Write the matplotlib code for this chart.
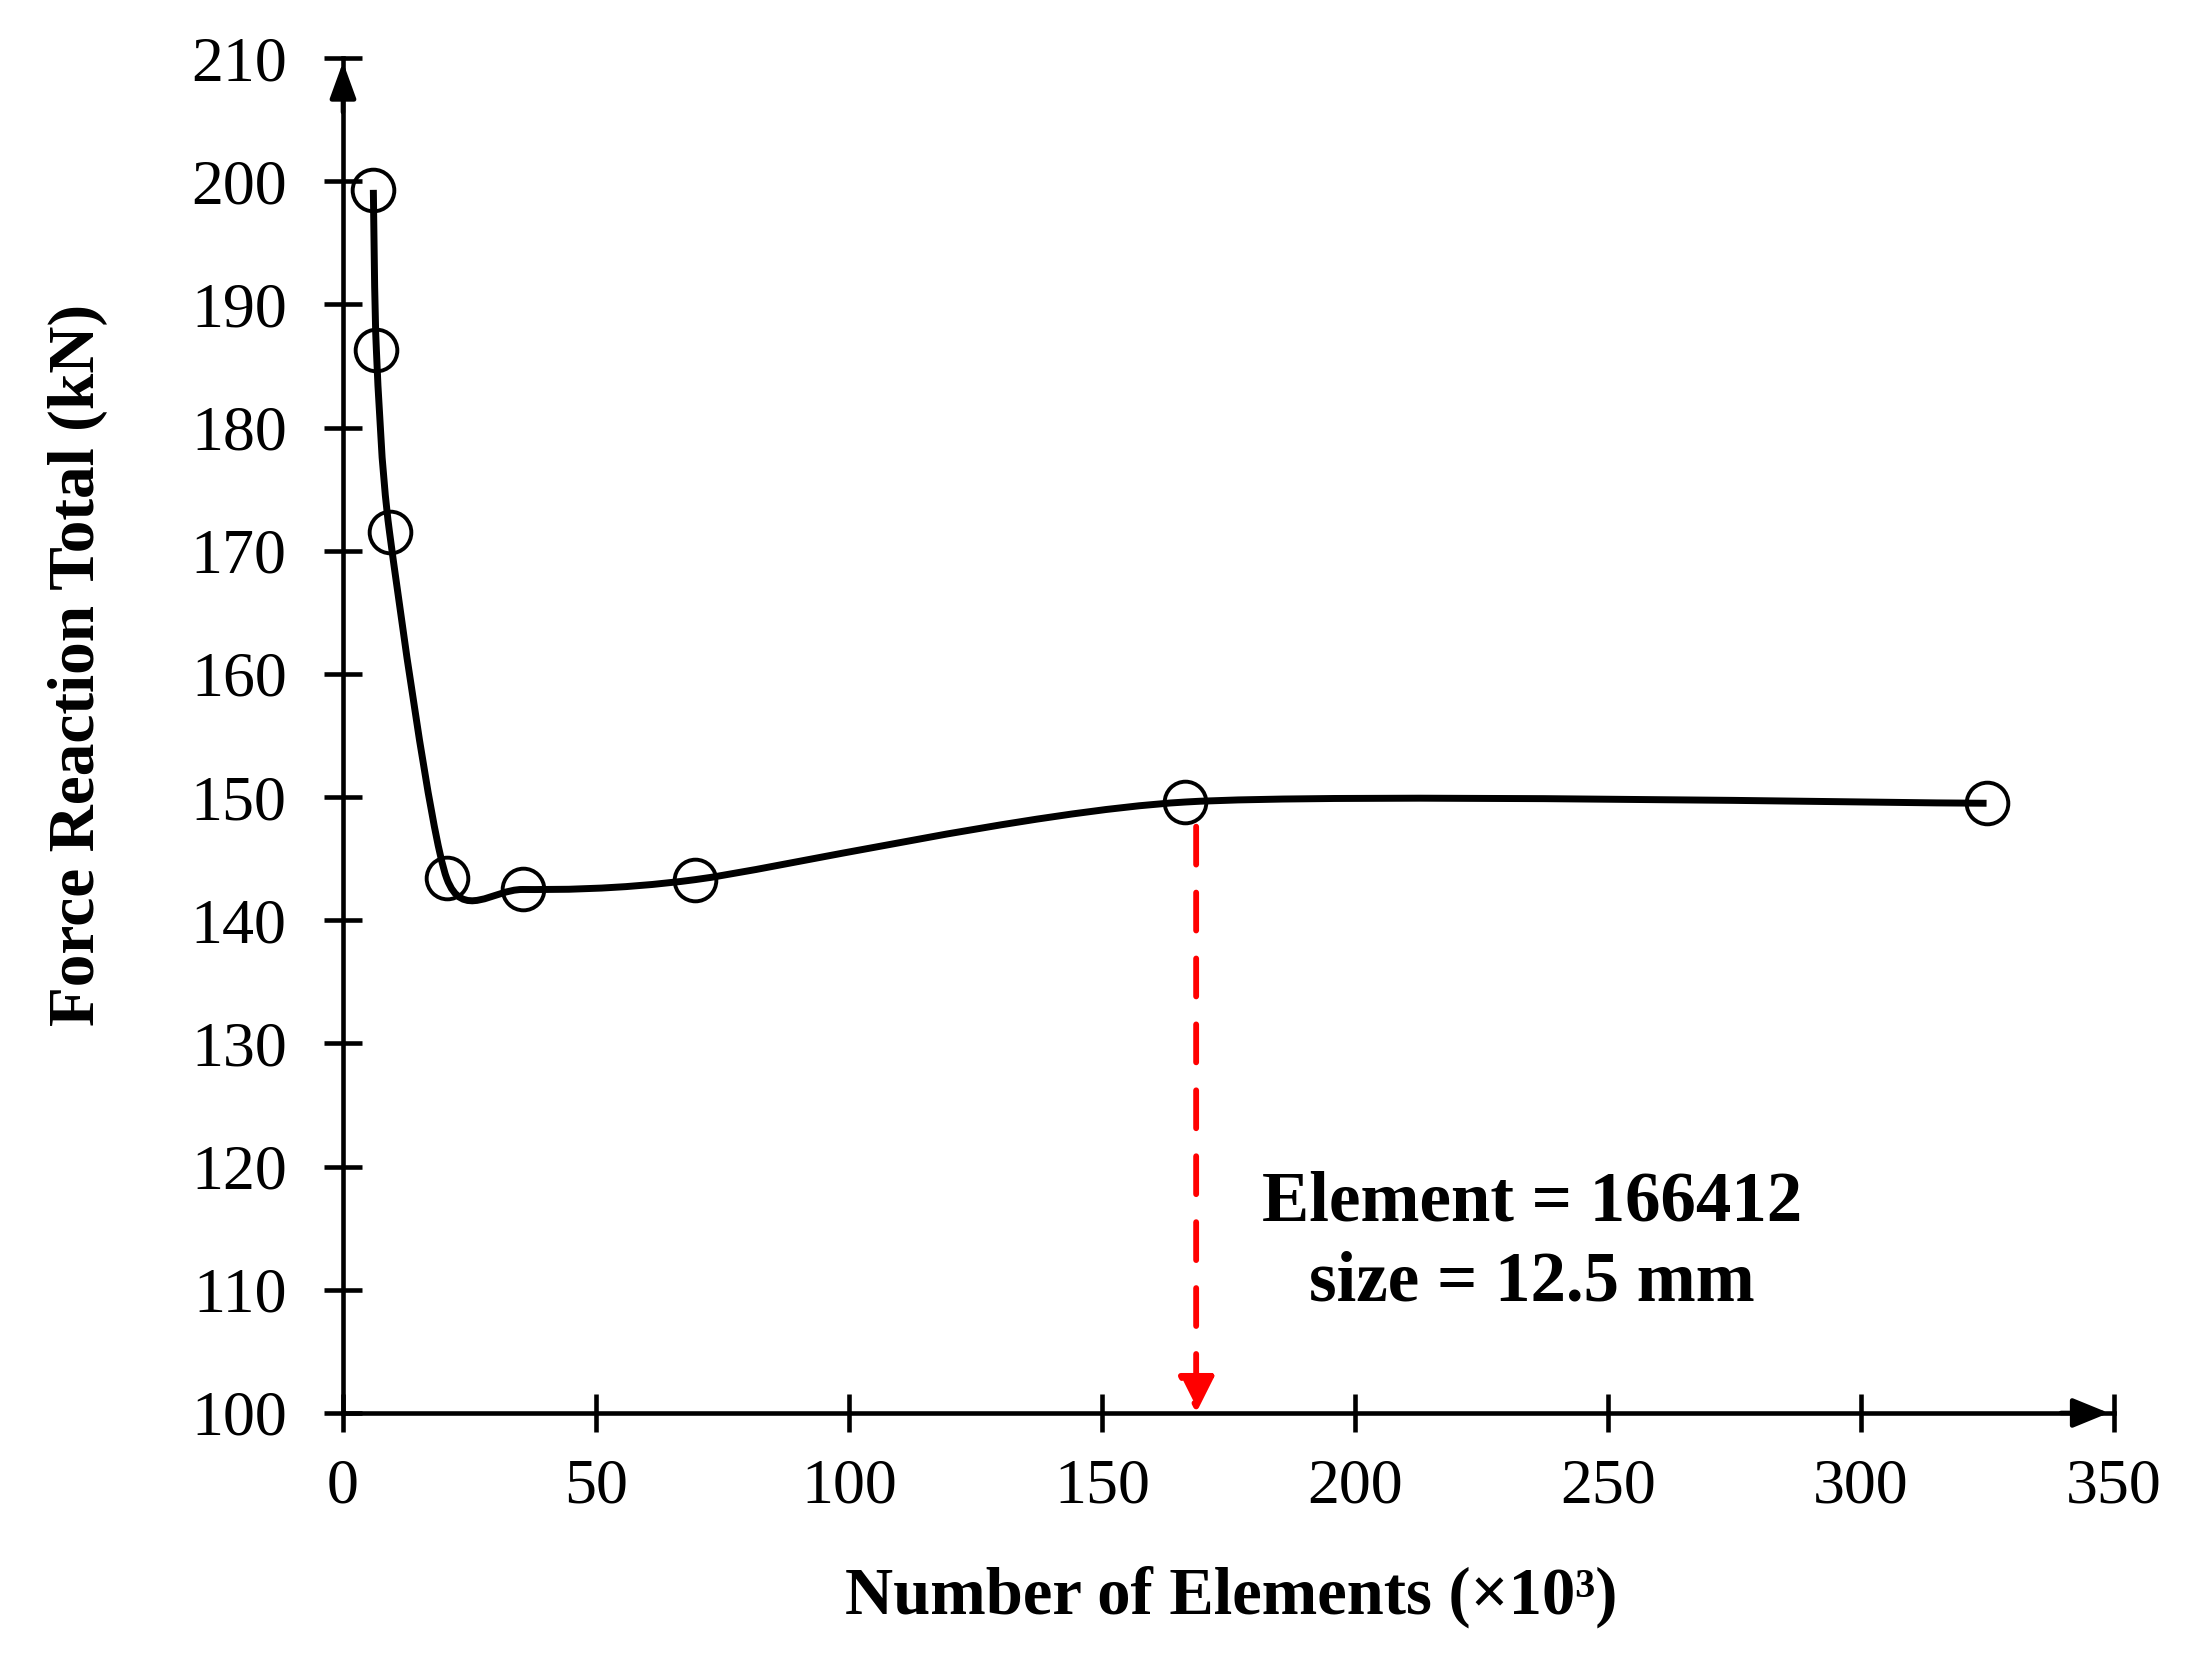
import numpy as np
import matplotlib
matplotlib.use("Agg")
import matplotlib.pyplot as plt
from matplotlib.path import Path
from matplotlib.patches import PathPatch

# ---- data ----
elements = [6.0, 6.6, 9.2, 20.5, 35.5, 69.6, 166.4, 324.8]   # x10^3
force = [199.3, 186.3, 171.5, 143.4, 142.5, 143.3, 149.6, 149.5]  # kN
xticks = [0, 50, 100, 150, 200, 250, 300, 350]
yticks = [100, 110, 120, 130, 140, 150, 160, 170, 180, 190, 200, 210]
arrow_x = 168.6
arrow_top = 147.6
note_lines = ["Element = 166412", "size = 12.5 mm"]
xlabel = "Number of Elements (×10³)"
ylabel = "Force Reaction Total (kN)"

plt.rcParams['font.family'] = ['Liberation Serif', 'DejaVu Serif']

fig = plt.figure(figsize=(21.86, 16.59), dpi=100)
ax = fig.add_axes([0.1569, 0.1483, 0.9671 - 0.1569, 0.9650 - 0.1483])

ax.set_xlim(0, 350)
ax.set_ylim(100, 210)
ax.set_xticks(xticks)
ax.set_yticks(yticks)
for s in ['top', 'right']:
    ax.spines[s].set_visible(False)
for s in ['left', 'bottom']:
    ax.spines[s].set_linewidth(3.3)
ax.tick_params(direction='inout', length=27, width=3.3, labelsize=46)
ax.tick_params(axis='y', pad=27)
ax.tick_params(axis='x', pad=19)

# smooth (Excel-like) curve through the points: cubic Bezier segments
tension = 0.12
xs = np.array(elements)
ys = np.array(force)
n = len(xs)
verts = [(xs[0], ys[0])]
codes = [Path.MOVETO]
for i in range(n - 1):
    p0 = np.array([xs[max(i - 1, 0)], ys[max(i - 1, 0)]])
    p1 = np.array([xs[i], ys[i]])
    p2 = np.array([xs[i + 1], ys[i + 1]])
    p3 = np.array([xs[min(i + 2, n - 1)], ys[min(i + 2, n - 1)]])
    c1 = p1 + (p2 - p0) * tension
    c2 = p2 - (p3 - p1) * tension
    verts += [tuple(c1), tuple(c2), tuple(p2)]
    codes += [Path.CURVE4] * 3
ax.add_patch(PathPatch(Path(verts, codes), facecolor='none', edgecolor='black',
                       lw=5, capstyle='butt', zorder=3))

ax.plot(elements, force, linestyle='none', marker='o', markersize=30,
        markerfacecolor='none', markeredgecolor='black', markeredgewidth=2.8, zorder=4)

# axis arrows
ax.annotate('', xy=(0, 1.0 - 0.003), xytext=(0, 0.96), xycoords='axes fraction',
            arrowprops=dict(arrowstyle='-|>,head_length=1.1,head_width=0.4',
                            mutation_scale=20, lw=3.3, color='black',
                            shrinkA=0, shrinkB=0), annotation_clip=False)
ax.annotate('', xy=(1.0 - 0.003, 0), xytext=(0.97, 0), xycoords='axes fraction',
            arrowprops=dict(arrowstyle='-|>,head_length=1.1,head_width=0.45',
                            mutation_scale=20, lw=3.3, color='black',
                            shrinkA=0, shrinkB=0), annotation_clip=False)

# red dashed arrow
ax.annotate('', xy=(arrow_x, 100), xytext=(arrow_x, arrow_top),
            arrowprops=dict(arrowstyle='-|>,head_length=1.1,head_width=0.55',
                            mutation_scale=20, lw=4.2, color='#ff0000',
                            linestyle=(0, (6.5, 4.8)), shrinkA=0, shrinkB=0),
            zorder=2)

ax.text(235, 113.8, "\n".join(note_lines), ha='center', va='center',
        multialignment='center', fontsize=51, fontweight='bold', linespacing=1.3)

fig.text(0.563, 0.0374, xlabel, ha='center', va='center', fontsize=48, fontweight='bold')
fig.text(0.0357, 0.599, ylabel, ha='center', va='center', rotation=90,
         fontsize=47, fontweight='bold')

fig.savefig('out.png', dpi=100)
